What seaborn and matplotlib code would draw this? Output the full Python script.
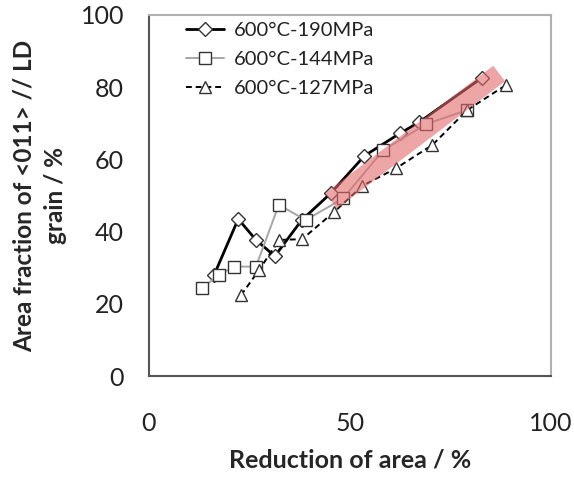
import matplotlib
matplotlib.use("Agg")
import matplotlib.pyplot as plt
import seaborn as sns

# ---- data ----
x190 = [16.2, 22.2, 26.6, 31.3, 38.0, 45.2, 53.6, 62.4, 67.2, 82.8]
y190 = [28.0, 43.5, 37.7, 33.2, 43.2, 50.6, 61.0, 67.2, 70.3, 82.6]
x144 = [13.1, 17.4, 21.1, 26.6, 32.3, 39.0, 48.3, 58.3, 69.0, 79.2]
y144 = [24.3, 28.0, 30.3, 30.3, 47.4, 43.2, 49.2, 62.6, 69.8, 73.7]
x127 = [22.9, 27.4, 32.4, 38.1, 46.1, 53.1, 61.4, 70.5, 79.2, 88.8]
y127 = [22.4, 29.4, 37.7, 37.9, 45.5, 52.7, 57.5, 64.0, 73.7, 80.6]
band_x = [45.3, 87.1]
band_y = [48.5, 83.8]
labels = ["600°C-190MPa", "600°C-144MPa", "600°C-127MPa"]
xticks = [0, 50, 100]
yticks = [0, 20, 40, 60, 80, 100]

sns.set_style("white")
plt.rcParams["font.family"] = ["Lato", "DejaVu Sans"]

fig = plt.figure(figsize=(5.74, 4.80), dpi=100)
ax = fig.add_axes([149/574, 1-376/480, (551-149)/574, (376-15)/480])

edge = "#333333"
sns.lineplot(x=x190, y=y190, ax=ax, sort=False, color="black", lw=2.0,
             marker="D", markersize=7, markerfacecolor="white",
             markeredgecolor=edge, markeredgewidth=1.0, label=labels[0], zorder=3)
sns.lineplot(x=x144, y=y144, ax=ax, sort=False, color="#a6a6a6", lw=1.4,
             marker="s", markersize=8, markerfacecolor="white",
             markeredgecolor=edge, markeredgewidth=1.0, label=labels[1], zorder=4)
sns.lineplot(x=x127, y=y127, ax=ax, sort=False, color="black", lw=1.4,
             linestyle=(0, (3, 2)),
             marker="^", markersize=9, markerfacecolor="white",
             markeredgecolor=edge, markeredgewidth=1.0, label=labels[2], zorder=5)
sns.lineplot(x=band_x, y=band_y, ax=ax, sort=False, color="#e26a6a", lw=14,
             alpha=0.6, solid_capstyle="butt", zorder=6, legend=False)

ax.set_xlim(0, 100)
ax.set_ylim(0, 100)
ax.set_xticks(xticks)
ax.set_yticks(yticks)
ax.tick_params(axis="both", direction="in", length=5, width=1.2, color="#555555",
               labelsize=18, labelcolor="#222222")
ax.tick_params(axis="x", pad=26)
ax.tick_params(axis="y", pad=18)

for s in ["left", "bottom"]:
    ax.spines[s].set_color("#555555")
    ax.spines[s].set_linewidth(1.5)
for s in ["top", "right"]:
    ax.spines[s].set_color("#b0b0b0")
    ax.spines[s].set_linewidth(1.5)

ax.set_xlabel("Reduction of area / %", fontsize=18, fontweight="bold", labelpad=10)
ax.set_ylabel("Area fraction of <011> // LD\ngrain / %", fontsize=17.5,
              fontweight="bold", labelpad=10, linespacing=1.4)

leg = ax.legend(loc="upper left", bbox_to_anchor=(0.092, 0.98), frameon=False,
                fontsize=14.5, handlelength=1.9, handletextpad=0.5, borderpad=0,
                labelspacing=0.58, borderaxespad=0)
for t in leg.get_texts():
    t.set_color("#222222")

fig.savefig("out.png", dpi=100)
